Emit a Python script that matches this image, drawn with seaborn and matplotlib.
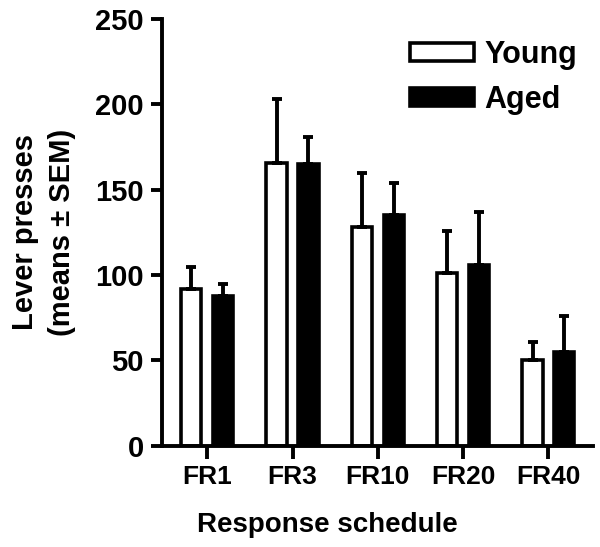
import numpy as np
import pandas as pd
import matplotlib
matplotlib.use("Agg")
import matplotlib.pyplot as plt
import seaborn as sns

# valores
schedules = ["FR1", "FR3", "FR10", "FR20", "FR40"]
groups = ["Young", "Aged"]
young_mean = [92, 166, 128, 101, 50]
young_sem = [13, 37, 32, 25, 11]
aged_mean = [88, 165, 135, 106, 55]
aged_sem = [7, 16, 19, 31, 21]

df = pd.DataFrame({
    "schedule": schedules * 2,
    "group": ["Young"] * 5 + ["Aged"] * 5,
    "presses": young_mean + aged_mean,
    "sem": young_sem + aged_sem,
})

sns.set_style("ticks")
plt.rcParams["font.family"] = ["Liberation Sans", "DejaVu Sans"]
plt.rcParams["font.weight"] = "bold"
for k in ["text.color", "axes.labelcolor", "xtick.color", "ytick.color", "axes.edgecolor"]:
    plt.rcParams[k] = "black"

fig, ax = plt.subplots(figsize=(6, 5.47), dpi=100)
fig.subplots_adjust(left=0.27, right=0.988, top=0.965, bottom=0.185)

sns.barplot(data=df, x="schedule", y="presses", hue="group", order=schedules,
            hue_order=groups, palette={"Young": "white", "Aged": "black"},
            width=0.745, gap=0.36, edgecolor="black", linewidth=2.6,
            errorbar=None, ax=ax)

# barras de error solo hacia arriba
for patches, (name, sub) in zip(ax.containers, df.groupby("group", sort=False)):
    xs = [p.get_x() + p.get_width() / 2 for p in patches]
    ax.errorbar(xs, sub["presses"], yerr=[np.zeros(len(sub)), sub["sem"]],
                fmt="none", ecolor="black", elinewidth=2.8, capsize=3.6,
                capthick=2.8, zorder=1)

ax.set_ylim(0, 250)
ax.set_yticks(range(0, 251, 50))
ax.set_xlim(-0.53, 4.52)
ax.set_xlabel("Response schedule", fontsize=20, fontweight="bold")
ax.xaxis.set_label_coords(0.385, -0.155)
ax.set_ylabel("Lever presses\n(means ± SEM)", fontsize=21, fontweight="bold",
              linespacing=1.4)
ax.yaxis.set_label_coords(-0.20, 0.5)
ax.tick_params(axis="y", labelsize=21, width=2.8, length=8, pad=5)
ax.tick_params(axis="x", labelsize=19, width=2.8, length=9, pad=5)
for lab in ax.get_xticklabels() + ax.get_yticklabels():
    lab.set_fontweight("bold")
for s in ["left", "bottom"]:
    ax.spines[s].set_linewidth(2.8)
sns.despine(ax=ax)

ax.legend(loc="upper left", bbox_to_anchor=(0.575, 0.952), frameon=False,
          prop={"size": 22, "weight": "bold"}, handlelength=2.1,
          handleheight=0.55, handletextpad=0.35, labelspacing=0.5,
          borderpad=0, borderaxespad=0)

fig.savefig("out.png", dpi=100)
